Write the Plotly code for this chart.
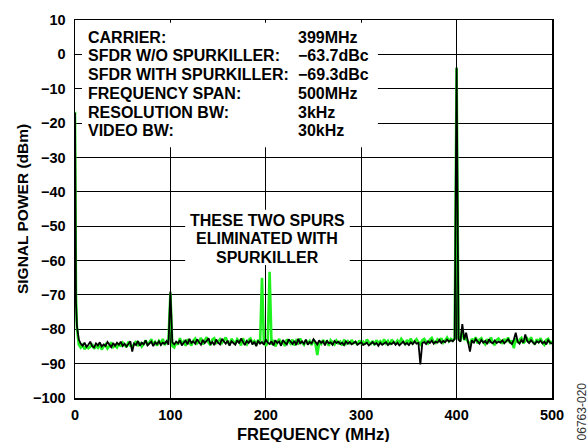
import plotly.graph_objects as go

# ---------------- data ----------------
freq_head = [0, 1, 2, 3, 4]
freq_step_start, freq_step_end, freq_step = 6, 500, 2
freq_mhz = freq_head + list(range(freq_step_start, freq_step_end + 1, freq_step))

# SFDR with SpurKiller (black)
with_head = [-17.0, -72.0, -79.0, -81.5, -83.0]
with_rows = [
    [-84.2, -84.8, -83.9, -85.1, -84.5, -83.6, -84.9, -85.3, -84.1, -84.7, -83.8, -85.0, -84.4, -84.9, -83.7, -84.6, -85.2, -84.0, -84.8, -83.9],
    [-84.5, -83.6, -84.9, -84.2, -85.0, -84.3, -83.5, -86.5, -84.1, -84.6, -83.4, -84.8, -83.9, -84.4, -83.2, -84.7, -84.0, -83.6, -84.9, -83.8],
    [-84.3, -83.5, -84.6, -83.9, -84.2, -83.4, -84.5, -69.0, -83.8, -84.4, -83.6, -84.1, -83.2, -84.7, -83.9, -83.3, -84.4, -82.8, -84.0, -83.5],
    [-84.2, -82.9, -83.8, -84.5, -83.1, -84.0, -83.4, -82.6, -84.3, -83.7, -84.6, -83.0, -83.9, -84.4, -82.8, -83.6, -84.2, -83.3, -84.8, -83.5],
    [-83.9, -84.5, -83.2, -84.1, -82.7, -83.8, -84.6, -83.4, -84.0, -83.1, -84.4, -83.6, -84.9, -83.3, -84.2, -83.7, -84.5, -83.0, -83.9, -84.3],
    [-83.5, -84.7, -83.2, -84.0, -83.6, -84.8, -83.1, -83.9, -84.4, -82.9, -83.8, -84.3, -83.4, -84.6, -82.8, -84.1, -83.5, -84.2, -83.0, -84.5],
    [-83.7, -84.1, -82.9, -83.8, -84.4, -83.2, -84.0, -83.5, -84.7, -83.3, -84.1, -83.8, -84.5, -83.4, -84.0, -83.6, -84.3, -83.9, -84.6, -83.5],
    [-84.2, -83.7, -84.4, -84.0, -83.6, -84.5, -84.1, -83.8, -84.6, -84.2, -83.9, -84.7, -84.3, -83.7, -84.4, -84.0, -84.8, -83.9, -84.5, -84.1],
    [-83.8, -84.6, -84.0, -84.3, -83.7, -84.5, -83.9, -84.7, -84.1, -83.6, -84.4, -84.0, -84.6, -83.8, -84.3, -83.5, -84.2, -84.0, -90.2, -84.1],
    [-83.7, -84.3, -83.5, -84.0, -83.3, -84.2, -83.6, -83.9, -83.1, -84.0, -83.4, -83.8, -83.0, -83.6, -83.2, -83.5, -82.8, -3.8, -83.0, -83.6],
    [-78.5, -83.0, -81.0, -83.5, -86.5, -83.2, -84.0, -82.8, -83.7, -84.2, -83.1, -83.9, -83.4, -84.3, -82.9, -83.8, -84.1, -83.3, -84.0, -83.6],
    [-83.9, -83.2, -84.1, -83.5, -82.9, -83.8, -84.3, -83.0, -81.0, -83.6, -84.2, -83.1, -83.9, -81.5, -83.4, -84.0, -83.2, -83.8, -84.3, -83.5],
    [-83.9, -83.3, -84.1, -83.6, -84.4, -83.2, -83.9, -84.2],
]

# SFDR without SpurKiller (green)
without_head = [-16.7, -70.0, -79.5, -82.5, -84.5]
without_rows = [
    [-85.3, -84.6, -85.8, -84.9, -85.5, -85.1, -84.3, -85.7, -84.8, -85.4, -84.5, -85.9, -85.0, -84.4, -85.6, -84.9, -83.8, -85.2, -84.7, -85.3],
    [-84.1, -85.0, -83.9, -84.7, -85.2, -83.6, -84.8, -85.1, -84.2, -83.5, -84.9, -83.8, -85.0, -84.3, -83.2, -84.6, -83.9, -82.9, -84.4, -83.7],
    [-84.8, -83.4, -84.1, -82.8, -84.6, -83.9, -83.0, -69.5, -84.9, -85.3, -83.8, -84.5, -82.6, -84.2, -83.5, -84.8, -82.9, -83.9, -84.7, -83.3],
    [-82.7, -84.1, -83.6, -82.5, -84.4, -83.2, -82.3, -83.9, -84.6, -83.0, -82.6, -84.2, -83.5, -82.9, -84.0, -83.1, -82.4, -83.8, -84.5, -82.8],
    [-83.6, -84.3, -82.9, -83.5, -84.7, -82.6, -83.8, -84.4, -83.1, -82.7, -84.0, -83.4, -84.6, -83.0, -84.2, -65.0, -83.5, -84.8, -84.0, -63.3],
    [-84.5, -83.1, -85.0, -83.7, -82.8, -84.3, -83.4, -84.9, -82.9, -83.6, -84.2, -83.0, -84.7, -83.3, -84.0, -82.7, -83.9, -84.5, -83.2, -84.1],
    [-83.4, -84.6, -83.0, -84.2, -87.5, -83.7, -84.3, -83.1, -84.0, -83.5, -84.8, -83.2, -83.9, -84.4, -83.3, -84.1, -83.6, -84.7, -83.0, -84.2],
    [-83.5, -84.3, -83.1, -84.0, -83.7, -84.5, -83.3, -84.1, -83.6, -84.4, -83.0, -83.8, -84.2, -83.4, -84.6, -83.2, -84.0, -83.5, -84.3, -82.9],
    [-84.1, -83.4, -84.5, -83.0, -83.8, -84.2, -83.3, -84.0, -82.8, -83.7, -84.3, -83.1, -83.9, -82.7, -84.1, -83.5, -82.9, -83.8, -84.4, -83.2],
    [-82.8, -83.6, -84.1, -83.0, -82.5, -83.7, -84.0, -82.9, -83.4, -82.6, -83.9, -83.2, -82.4, -83.5, -82.8, -83.3, -82.7, -4.0, -82.5, -83.4],
    [-80.0, -83.1, -82.5, -83.7, -84.5, -82.8, -83.5, -82.3, -84.1, -83.0, -82.6, -83.8, -84.4, -82.9, -83.6, -82.4, -83.9, -84.6, -83.1, -82.7],
    [-83.5, -84.2, -82.8, -83.7, -82.4, -84.0, -83.3, -85.5, -82.6, -83.9, -83.1, -82.5, -84.1, -83.4, -82.7, -83.8, -82.3, -83.6, -84.4, -82.9],
    [-83.7, -82.6, -83.9, -84.5, -83.1, -82.8, -84.0, -83.5],
]

power_with_dbm = with_head + [v for row in with_rows for v in row]
power_without_dbm = without_head + [v for row in without_rows for v in row]
assert len(power_with_dbm) == len(freq_mhz), (len(power_with_dbm), len(freq_mhz))
assert len(power_without_dbm) == len(freq_mhz), (len(power_without_dbm), len(freq_mhz))

x_ticks = [0, 100, 200, 300, 400, 500]
y_ticks = [10, 0, -10, -20, -30, -40, -50, -60, -70, -80, -90, -100]

info_labels = ["CARRIER:", "SFDR W/O SPURKILLER:", "SFDR WITH SPURKILLER:",
               "FREQUENCY SPAN:", "RESOLUTION BW:", "VIDEO BW:"]
info_values = ["399MHz", "\u221263.7dBc", "\u221269.3dBc", "500MHz", "3kHz", "30kHz"]
spur_note = ["THESE TWO SPURS", "ELIMINATED WITH", "SPURKILLER"]

# ---------------- figure ----------------
FONT = "Liberation Sans, Arial, Helvetica, sans-serif"
GREEN = "#1ff21f"

fig = go.Figure()
fig.add_trace(go.Scatter(x=freq_mhz, y=power_without_dbm, mode="lines",
                         line=dict(color=GREEN, width=2.6), showlegend=False,
                         hoverinfo="skip"))
fig.add_trace(go.Scatter(x=freq_mhz, y=power_with_dbm, mode="lines",
                         line=dict(color="#000000", width=1.8), showlegend=False,
                         hoverinfo="skip"))

# white boxes behind the annotations
fig.add_shape(type="rect", xref="x", yref="y", x0=7.3, x1=317.5, y0=-27.0, y1=9.2,
              fillcolor="white", line=dict(width=0), layer="above")
fig.add_shape(type="rect", xref="x", yref="y", x0=115.5, x1=288.0, y0=-61.3, y1=-45.2,
              fillcolor="white", line=dict(width=0), layer="above")

tick_font = dict(family=FONT, size=14.5, color="black", weight="bold")
ann_font = dict(family=FONT, size=16, color="black", weight="bold")

# info block: one annotation per line for exact line spacing
info_top_y, info_line_step = 5.0, -5.45
for i, (lab, val) in enumerate(zip(info_labels, info_values)):
    yy = info_top_y + i * info_line_step
    fig.add_annotation(x=12.0, y=yy, xref="x", yref="y", xanchor="left", yanchor="middle",
                       text=lab, showarrow=False, font=ann_font)
    fig.add_annotation(x=231.5, y=yy, xref="x", yref="y", xanchor="left", yanchor="middle",
                       text=val, showarrow=False, font=ann_font)

note_top_y, note_line_step = -48.4, -5.3
for i, line in enumerate(spur_note):
    fig.add_annotation(x=201.5, y=note_top_y + i * note_line_step, xref="x", yref="y",
                       xanchor="center", yanchor="middle", text=line, showarrow=False,
                       font=ann_font)

# axis titles
fig.add_annotation(x=0.5, y=-0.094, xref="paper", yref="paper", xanchor="center",
                   yanchor="middle", text="FREQUENCY (MHz)", showarrow=False,
                   font=dict(family=FONT, size=16.5, color="black", weight="bold"))
fig.add_annotation(x=-0.111, y=0.5, xref="paper", yref="paper", xanchor="center",
                   yanchor="middle", text="SIGNAL POWER (dBm)", showarrow=False,
                   textangle=-90,
                   font=dict(family=FONT, size=15.5, color="black", weight="bold"))
# figure code
fig.add_annotation(x=1.062, y=-0.0366, xref="paper", yref="paper", xanchor="center",
                   yanchor="middle", text="06763-020", showarrow=False, textangle=-90,
                   font=dict(family=FONT, size=12, color="#333333"))

fig.update_xaxes(range=[0, 500], tickvals=x_ticks, ticktext=[str(v) for v in x_ticks],
                 showgrid=True, gridcolor="black", gridwidth=1, zeroline=False,
                 showline=True, linecolor="black", linewidth=1.5, mirror=True,
                 ticks="", tickfont=tick_font, ticklabelstandoff=3, fixedrange=True)
fig.update_yaxes(range=[-100, 10], tickvals=y_ticks,
                 ticktext=[str(v).replace("-", "\u2212") for v in y_ticks],
                 showgrid=True, gridcolor="black", gridwidth=1, zeroline=False,
                 showline=True, linecolor="black", linewidth=1.5, mirror=True,
                 ticks="", tickfont=tick_font, ticklabelstandoff=5, fixedrange=True)

fig.update_layout(width=588, height=442, margin=dict(l=75, r=36, t=15, b=44),
                  paper_bgcolor="white", plot_bgcolor="white", showlegend=False)

fig.write_html("out.html", config={"displayModeBar": False, "staticPlot": True},
               post_script="document.body.style.margin='0';document.body.style.overflow='hidden';")
